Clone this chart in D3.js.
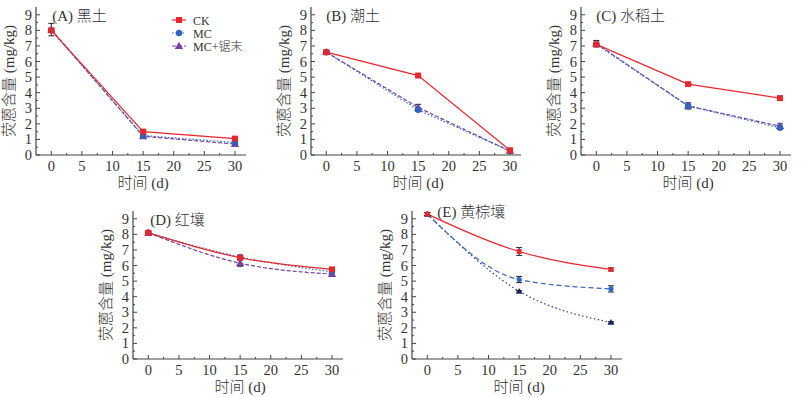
<!DOCTYPE html>
<html>
<head>
<meta charset="utf-8">
<script src="https://cdn.jsdelivr.net/npm/d3@7"></script>
<style>
  body { margin: 0; background: #fff; }
  svg text { font-family: "Liberation Serif", "Noto Sans CJK SC", serif; fill: #333; font-weight: 300; }
</style>
</head>
<body>
<div id="chart"></div>
<script>
// days sampled
const days = [0, 15, 30];
const seriesNames = ["CK", "MC", "MC+锯末"];
const panelTitles = ["(A) 黑土", "(B) 潮土", "(C) 水稻土", "(D) 红壤", "(E) 黄棕壤"];

// fluoranthene content (mg/kg), one array per panel & series
const ckA = [8.0, 1.5, 1.05], mcA = [8.0, 1.25, 0.8], msA = [8.05, 1.2, 0.7];
const ckB = [6.6, 5.1, 0.3], mcB = [6.6, 2.9, 0.25], msB = [6.6, 3.05, 0.25];
const ckC = [7.1, 4.55, 3.65], mcC = [7.1, 3.15, 1.75], msC = [7.15, 3.15, 1.85];
const ckD = [8.1, 6.5, 5.75], mcD = [8.1, 6.55, 5.6], msD = [8.1, 6.15, 5.45];
const ckE = [9.3, 6.9, 5.75], mcE = [9.3, 5.1, 4.5], msE = [9.3, 4.35, 2.35];

// error bar half-widths
const errA = [[0.1, 0.1, 0.1], [0.1, 0.1, 0.1], [0.4, 0.1, 0.1]];
const errB = [[0.05, 0.05, 0.05], [0.05, 0.1, 0.1], [0.1, 0.2, 0.1]];
const errC = [[0.05, 0.05, 0.05], [0.1, 0.1, 0.1], [0.2, 0.2, 0.15]];
const errD = [[0.05, 0.05, 0.1], [0.1, 0.1, 0.1], [0.1, 0.2, 0.15]];
const errE = [[0.1, 0.25, 0.1], [0.1, 0.2, 0.2], [0.1, 0.05, 0.05]];

const yTicks = [0, 1, 2, 3, 4, 5, 6, 7, 8, 9];
const xTicks = [0, 5, 10, 15, 20, 25, 30];

const colors = ["#e8262d", "#2f63c0", "#7b3fa6"];
const blueE = ["#e8262d", "#3366c4", "#303a9a"];

const panels = [
    { title: panelTitles[0], data: [ckA, mcA, msA], err: errA, left: 36, top: 7, tx: 1, curve: false, dash: ["", "1.5,2", "4,2"], col: colors, legend: true },
    { title: panelTitles[1], data: [ckB, mcB, msB], err: errB, left: 311, top: 7, tx: 0, curve: false, dash: ["", "1.5,2", "4,2"], col: colors },
    { title: panelTitles[2], data: [ckC, mcC, msC], err: errC, left: 581, top: 7, tx: 0, curve: false, dash: ["", "1.5,2", "4,2"], col: colors },
    { title: panelTitles[3], data: [ckD, mcD, msD], err: errD, left: 133, top: 211, tx: 2, curve: true, dash: ["", "1.5,2", "4,2"], col: colors },
    { title: panelTitles[4], data: [ckE, mcE, msE], err: errE, left: 412, top: 211, tx: 10, curve: true, dash: ["", "5,3", "1.5,2.5"], col: blueE, small: true }
];

const W = 807, H = 397;
const pw = 210, ph = 148;

const svg = d3.select("#chart").append("svg")
    .attr("width", W)
    .attr("height", H);

function marker(g, type, x, y, c, k) {
    k = k || 1;
    if (type === 0) {
        g.append("rect").attr("x", x - 3 * k).attr("y", y - 3 * k).attr("width", 6 * k).attr("height", 6 * k).attr("fill", c);
    } else if (type === 1) {
        g.append("circle").attr("cx", x).attr("cy", y).attr("r", 3.2 * k).attr("fill", c);
    } else {
        g.append("path").attr("d", d3.symbol(d3.symbolTriangle, 30 * k * k)()).attr("transform", `translate(${x},${y + 0.5})`).attr("fill", c);
    }
}

panels.forEach(p => {
    const g = svg.append("g").attr("transform", `translate(${p.left},${p.top})`);

    const x = d3.scaleLinear().domain([-2.5, 31.8]).range([0, pw]);
    const y = d3.scaleLinear().domain([0, 9.5]).range([ph, 0]);

    // axes lines
    g.append("line").attr("x1", 0).attr("x2", 0).attr("y1", 0).attr("y2", ph).attr("stroke", "#444").attr("stroke-width", 1.2);
    g.append("line").attr("x1", 0).attr("x2", pw).attr("y1", ph).attr("y2", ph).attr("stroke", "#444").attr("stroke-width", 1.2);

    // y ticks (inward) with minor halves
    d3.range(0, 9.5, 0.5).forEach(v => {
        const major = Number.isInteger(v);
        g.append("line").attr("x1", 0).attr("x2", major ? 4 : 2)
            .attr("y1", y(v)).attr("y2", y(v)).attr("stroke", "#444");
    });
    g.selectAll(".ylab").data(yTicks).enter().append("text")
        .attr("x", -4).attr("y", d => y(d) + 5)
        .attr("text-anchor", "end")
        .style("font-size", "14.5px")
        .text(d => d);

    // x ticks
    d3.range(0, 31, 2.5).forEach(v => {
        const major = v % 5 === 0;
        g.append("line").attr("x1", x(v)).attr("x2", x(v))
            .attr("y1", ph).attr("y2", ph - (major ? 4 : 2)).attr("stroke", "#444");
    });
    g.selectAll(".xlab").data(xTicks).enter().append("text")
        .attr("x", d => x(d)).attr("y", ph + 16)
        .attr("text-anchor", "middle")
        .style("font-size", "14.5px")
        .text(d => d);

    // axis titles
    g.append("text")
        .attr("text-anchor", "middle")
        .attr("transform", `translate(-22,${ph / 2}) rotate(-90)`)
        .style("font-size", "15px")
        .text("荧蒽含量 (mg/kg)");
    g.append("text")
        .attr("text-anchor", "middle")
        .attr("x", x(15)).attr("y", ph + 33)
        .style("font-size", "15px")
        .text("时间 (d)");

    g.append("text")
        .attr("x", x(0) + p.tx).attr("y", p.small ? 6 : 14)
        .style("font-size", "15px")
        .text(p.title);

    const line = d3.line()
        .x((d, i) => x(days[i]))
        .y(d => y(d));
    if (p.curve) line.curve(d3.curveMonotoneX);

    // draw back to front so CK lands on top like the original
    [2, 1, 0].forEach(s => {
        g.append("path")
            .attr("d", line(p.data[s]))
            .attr("fill", "none")
            .attr("stroke", p.col[s])
            .attr("stroke-width", 1.2)
            .attr("stroke-dasharray", p.dash[s]);
    });
    [2, 1, 0].forEach(s => {
        p.data[s].forEach((v, i) => {
            const e = p.err[s][i];
            const cx = x(days[i]);
            g.append("path")
                .attr("d", `M${cx - 3},${y(v + e)}H${cx + 3}M${cx},${y(v + e)}V${y(v - e)}M${cx - 3},${y(v - e)}H${cx + 3}`)
                .attr("stroke", "#222").attr("stroke-width", 1).attr("fill", "none");
            marker(g, s, cx, y(v), s === 2 && p.small ? "#1d2466" : p.col[s], p.small ? 0.8 : 1);
        });
    });

    if (p.legend) {
        const lg = g.append("g").attr("transform", `translate(136,13)`);
        seriesNames.forEach((n, s) => {
            const ly = s * 13;
            lg.append("line").attr("x1", 0).attr("x2", 14).attr("y1", ly).attr("y2", ly)
                .attr("stroke", p.col[s]).attr("stroke-width", 1.2).attr("stroke-dasharray", p.dash[s]);
            marker(lg, s, 7, ly, p.col[s]);
            lg.append("text").attr("x", 21).attr("y", ly + 4.5)
                .style("font-size", "12px")
                .text(n);
        });
    }
});
</script>
</body>
</html>
